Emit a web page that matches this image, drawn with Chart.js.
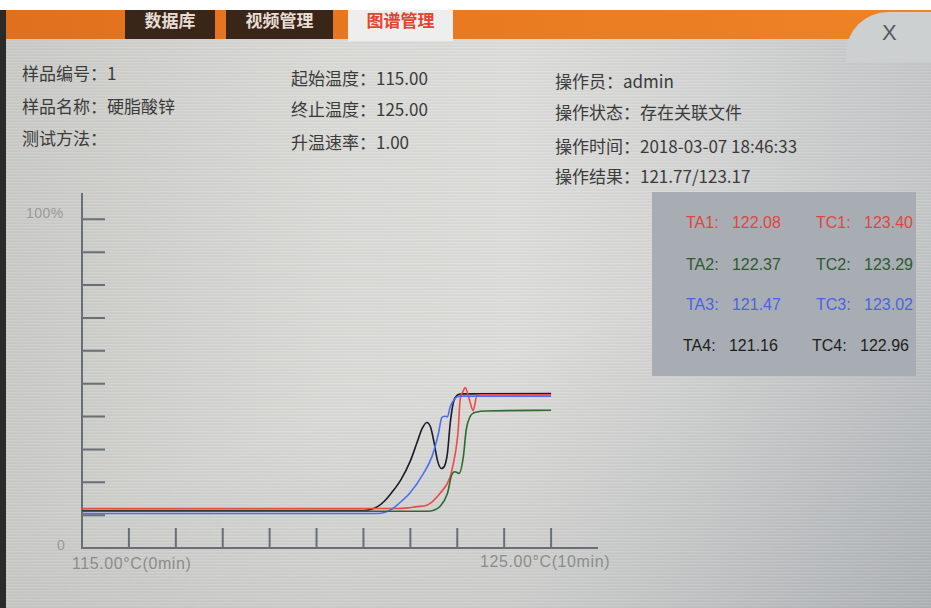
<!DOCTYPE html>
<html>
<head>
<meta charset="utf-8">
<script src="https://cdn.jsdelivr.net/npm/chart.js@4"></script>
<style>
  html, body { margin:0; padding:0; }
  body { width:931px; height:608px; position:relative; overflow:hidden; background:#ffffff;
         font-family:"Noto Sans CJK SC","Noto Sans",sans-serif; }
  #panel { position:absolute; left:6px; top:38px; width:925px; height:570px;
           background:
             linear-gradient(160deg, rgba(0,0,0,0) 55%, rgba(70,80,90,0.18) 100%),
             linear-gradient(to right, #c9cac6 0%, #d9d9d6 35%, #dcdcd9 55%, #d3d4d3 75%, #c3c6c7 100%); }
  #scan { position:absolute; left:6px; top:38px; width:925px; height:570px;
          background:repeating-linear-gradient(to bottom, rgba(255,255,255,0.10) 0px, rgba(255,255,255,0.10) 1px, rgba(0,0,0,0.035) 2px, rgba(0,0,0,0) 3px); }
  #leftedge { position:absolute; left:0; top:10px; width:6px; height:598px; background:#2a2a2a; }
  #topbar { position:absolute; left:6px; top:10px; width:925px; height:29px;
            background:linear-gradient(to right, #e0701e, #e8781f 40%, #ee8326 100%); }
  .tab { position:absolute; top:10px; height:29px; font-size:17px; font-weight:bold; color:#e6ddd4;
         text-align:center; line-height:20px; overflow:hidden; }
  #bump { position:absolute; left:846px; top:12px; width:85px; height:50px; background:#cdd0d0;
          border-top-left-radius:42px; }
  #close { position:absolute; left:882px; top:20px; font-family:"Liberation Sans",sans-serif; font-size:22px; color:#555a60; }
  .info { position:absolute; font-size:17px; color:#3b3b3b; white-space:nowrap; line-height:20px; }
  #tbox { position:absolute; left:652px; top:192px; width:264px; height:184px; background:#a8acb3; }
  .t { position:absolute; font-family:"Liberation Sans",Arial,sans-serif; font-size:16px; white-space:pre; line-height:18px; }
  .ax { position:absolute; font-family:"Liberation Sans",Arial,sans-serif; color:#8c8c8c; white-space:nowrap; }
  canvas { position:absolute; left:0; top:0; }
</style>
</head>
<body>
<div id="panel"></div>
<div id="scan"></div>
<div id="leftedge"></div>
<div id="topbar"></div>
<div class="tab" style="left:125px;width:90px;background:#3a2519;">数据库</div>
<div class="tab" style="left:226px;width:107px;background:#3a2519;">视频管理</div>
<div class="tab" style="left:348px;width:105px;background:#eeeeee;color:#e2452f;height:31px;">图谱管理</div>
<div id="bump"></div>
<div id="close">X</div>

<div class="info" style="left:22px;top:63px;">样品编号：1</div>
<div class="info" style="left:22px;top:96px;">样品名称：硬脂酸锌</div>
<div class="info" style="left:22px;top:128px;">测试方法：</div>
<div class="info" style="left:291px;top:68px;">起始温度：115.00</div>
<div class="info" style="left:291px;top:99px;">终止温度：125.00</div>
<div class="info" style="left:291px;top:132px;">升温速率：1.00</div>
<div class="info" style="left:555px;top:71px;">操作员：admin</div>
<div class="info" style="left:555px;top:102px;">操作状态：存在关联文件</div>
<div class="info" style="left:555px;top:136px;">操作时间：2018-03-07 18:46:33</div>
<div class="info" style="left:555px;top:166px;">操作结果：121.77/123.17</div>

<div id="tbox"></div>
<div class="t" style="left:686px;top:214px;color:#e0463e;">TA1:   122.08</div>
<div class="t" style="left:816px;top:214px;color:#e0463e;">TC1:   123.40</div>
<div class="t" style="left:686px;top:256px;color:#2f5a30;">TA2:   122.37</div>
<div class="t" style="left:816px;top:256px;color:#2f5a30;">TC2:   123.29</div>
<div class="t" style="left:686px;top:296px;color:#4a64e2;">TA3:   121.47</div>
<div class="t" style="left:816px;top:296px;color:#4a64e2;">TC3:   123.02</div>
<div class="t" style="left:683px;top:337px;color:#1e1e1e;">TA4:   121.16</div>
<div class="t" style="left:812px;top:337px;color:#1e1e1e;">TC4:   122.96</div>

<div class="ax" style="left:26px;top:205px;font-size:14px;color:#9a9a9a;letter-spacing:0.5px;">100%</div>
<div class="ax" style="left:57px;top:537px;font-size:14px;color:#9a9a9a;">0</div>
<div class="ax" style="left:72px;top:555px;font-size:16px;letter-spacing:0.6px;">115.00°C(0min)</div>
<div class="ax" style="left:480px;top:553px;font-size:16px;letter-spacing:0.6px;">125.00°C(10min)</div>

<canvas id="c" width="931" height="608"></canvas>
<script>
// ---- data (x: minutes, y: percent) ----
const xTicks = [1,2,3,4,5,6,7,8,9,10];
const yTicks = [10,20,30,40,50,60,70,80,90,100];

const greenTime  = [0, 7.35, 7.5, 7.63, 7.79, 7.88, 7.95, 8.04, 8.13, 8.19, 8.27, 8.42, 8.63, 10];
const greenValue = [11.2, 11.2, 11.5, 12.6, 16.6, 22.2, 23.2, 22.7, 27.8, 35.9, 39.9, 41.4, 41.7, 41.9];

const blueTime  = [0, 6.3, 6.46, 6.6, 6.71, 6.99, 7.28, 7.46, 7.6, 7.67, 7.74, 7.79, 7.85, 7.95, 8.06, 8.2, 10];
const blueValue = [10.5, 10.5, 10.9, 11.8, 13, 16.7, 22.7, 27.8, 34.9, 39.7, 40.1, 39.9, 43, 45.5, 46.2, 46.2, 46.2];

const redTime  = [0, 6.7, 6.95, 7.15, 7.35, 7.63, 7.85, 7.93, 7.97, 8.02, 8.06, 8.12, 8.17, 8.26, 8.34, 8.42, 8.5, 10];
const redValue = [12, 12, 12.2, 12.6, 13, 16.6, 21.7, 26.7, 29.8, 35.9, 45, 47.5, 48.8, 45, 41.8, 46.5, 46.6, 46.6];

const blackTime  = [0, 6.0, 6.15, 6.3, 6.45, 6.6, 6.8, 7.0, 7.14, 7.25, 7.35, 7.43, 7.5, 7.58, 7.66, 7.73, 7.79, 7.85, 7.92, 8.0, 8.1, 10];
const blackValue = [11.4, 11.4, 11.7, 12.6, 14.3, 16.8, 20.8, 26.5, 32.0, 36.3, 38.2, 36.8, 32.5, 26.5, 24.2, 25.0, 28.8, 38, 44.5, 46.5, 46.9, 47];

function pts(t, v) { return t.map((x, i) => ({ x: x, y: v[i] })); }

const axesPlugin = {
  id: 'axesPlugin',
  beforeDatasetsDraw(chart) {
    const ctx = chart.ctx, xs = chart.scales.x, ys = chart.scales.y;
    const x0 = xs.getPixelForValue(0), y0 = ys.getPixelForValue(0);
    ctx.save();
    ctx.strokeStyle = '#6a6e77';
    ctx.lineWidth = 2;
    ctx.beginPath();
    ctx.moveTo(x0, ys.getPixelForValue(ys.max));
    ctx.lineTo(x0, y0);
    ctx.lineTo(xs.getPixelForValue(xs.max), y0);
    ctx.stroke();
    ctx.beginPath();
    xTicks.forEach(v => { const p = xs.getPixelForValue(v); ctx.moveTo(p, y0); ctx.lineTo(p, y0 - 20); });
    yTicks.forEach(v => { const p = ys.getPixelForValue(v); ctx.moveTo(x0, p); ctx.lineTo(x0 + 23, p); });
    ctx.stroke();
    ctx.restore();
  }
};

const ds = (label, t, v, color, mode) => ({
  label, data: pts(t, v), borderColor: color, borderWidth: 1.6,
  pointRadius: 0, fill: false, cubicInterpolationMode: mode || 'monotone'
});

new Chart(document.getElementById('c'), {
  type: 'line',
  data: {
    datasets: [
      ds('TA2/TC2', greenTime, greenValue, '#2e6a2e'),
      ds('TA3/TC3', blueTime, blueValue, '#4d6ff0'),
      ds('TA1/TC1', redTime, redValue, '#ec4a4a'),
      ds('TA4/TC4', blackTime, blackValue, '#1b1b2a')
    ]
  },
  options: {
    responsive: false,
    devicePixelRatio: 1,
    animation: false,
    layout: { padding: { left: 82, right: 333, top: 193, bottom: 60 } },
    plugins: { legend: { display: false }, tooltip: { enabled: false } },
    scales: {
      x: { type: 'linear', min: 0, max: 11, display: false },
      y: { type: 'linear', min: 0, max: 108, display: false }
    }
  },
  plugins: [axesPlugin]
});
</script>
</body>
</html>
